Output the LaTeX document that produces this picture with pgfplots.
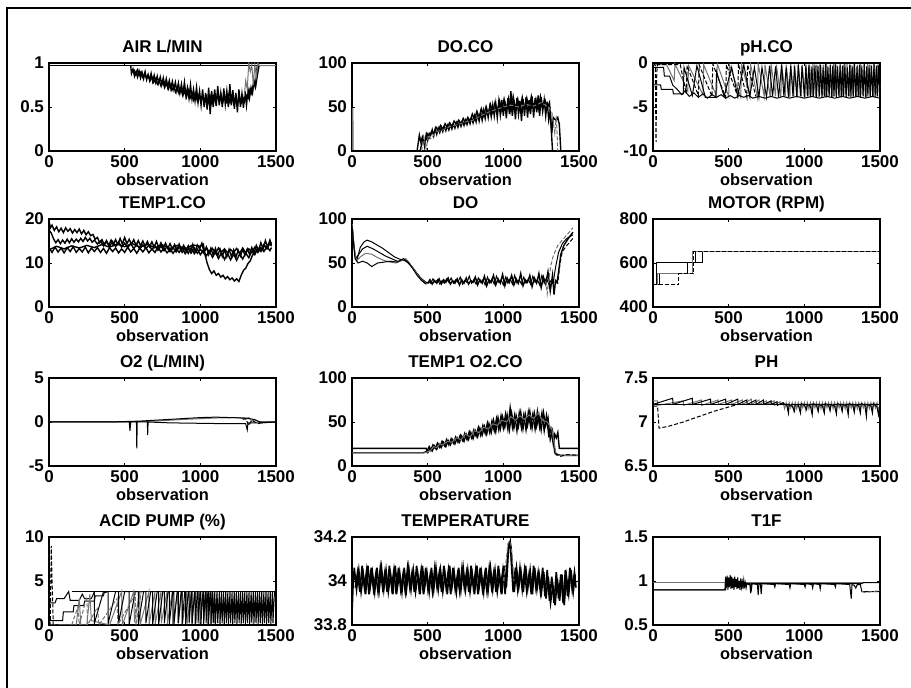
\documentclass[border=0pt]{standalone}
\usepackage{pgfplots}
\pgfplotsset{compat=1.18}
\usepackage{fontspec}
\setmainfont{Liberation Sans}

\pgfplotsset{
 panel/.style={
  scale only axis, width=113.5pt, height=44pt, anchor=south west,
  xmin=0, xmax=1500, xtick={0,500,1000,1500}, xticklabels={0,500,1000,1500},
  tick align=inside, major tick length=1.5pt,
  axis line style={line width=1pt}, every tick/.style={black, line width=0.4pt},
  tick label style={font=\bfseries\fontsize{8.5}{10}\selectfont},
  /pgf/number format/assume math mode=true,
  title style={font=\bfseries\fontsize{8.5}{10}\selectfont, yshift=-4.25pt, text depth=0pt},
  xlabel={observation}, xlabel style={font=\bfseries\fontsize{8.2}{10}\selectfont, yshift=4pt},
  xticklabel style={yshift=1pt}, yticklabel style={xshift=1pt},
 },
 blk/.style={black, line width=0.5pt},
 nz/.style={black, line width=0.7pt},
 gry/.style={black!55, line width=0.5pt},
 dsh/.style={black, line width=0.5pt, dash pattern=on 2pt off 1pt},
 gdsh/.style={black!55, line width=0.5pt, dash pattern=on 2pt off 1pt},
}

\begin{document}
\begin{tikzpicture}
\useasboundingbox (0,0) rectangle (455.5pt,344pt);
\draw[line width=0.7pt] (3.5pt,0pt) -- (3.5pt,340pt) -- (455.5pt,340pt);

% ---- row 1 ----
\begin{axis}[panel, at={(24.5pt,268.5pt)}, title={AIR  L/MIN},
 ymin=0, ymax=1, ytick={0,0.5,1}, yticklabels={0,0.5,1}]
\addplot[blk, line width=0.8pt] coordinates {(0,0.97) (1500,0.97)};
\addplot[nz] coordinates {(540,0.97) (545,0.88) (555,0.93) (565,0.85) (575,0.9) (585,0.84) (595,0.91) (605,0.83) (615,0.89) (625,0.82) (635,0.9) (645,0.81) (655,0.87) (665,0.8) (675,0.88) (685,0.79) (695,0.86) (705,0.78) (715,0.85) (725,0.77) (735,0.84) (745,0.75) (755,0.83) (765,0.74) (775,0.82) (785,0.73) (795,0.8) (805,0.71) (815,0.79) (825,0.7) (835,0.78) (845,0.68) (855,0.77) (865,0.66) (875,0.76) (885,0.65) (895,0.78) (905,0.63) (915,0.72) (925,0.6) (935,0.75) (945,0.59) (955,0.7) (965,0.57) (975,0.72) (985,0.55) (995,0.68) (1005,0.52) (1015,0.7) (1025,0.5) (1035,0.66) (1045,0.47) (1055,0.72) (1065,0.42) (1075,0.68) (1085,0.5) (1095,0.7) (1105,0.51) (1115,0.74) (1125,0.52) (1135,0.66) (1145,0.5) (1155,0.71) (1165,0.53) (1175,0.68) (1185,0.5) (1195,0.76) (1205,0.52) (1215,0.69) (1225,0.48) (1235,0.66) (1245,0.44) (1255,0.7) (1265,0.5) (1275,0.65) (1285,0.49) (1295,0.68) (1305,0.52) (1315,0.7) (1325,0.6) (1335,0.72) (1345,0.66) (1355,0.8) (1365,0.75) (1375,0.95) (1380,0.97)};
\addplot[nz] coordinates {(560,0.93) (572,0.87) (584,0.92) (596,0.86) (608,0.9) (620,0.84) (632,0.88) (644,0.83) (656,0.86) (668,0.8) (680,0.84) (692,0.78) (704,0.82) (716,0.76) (728,0.8) (740,0.74) (752,0.79) (764,0.72) (776,0.77) (788,0.7) (800,0.75) (812,0.69) (824,0.74) (836,0.67) (848,0.72) (860,0.65) (872,0.7) (884,0.63) (896,0.68) (908,0.61) (920,0.69) (932,0.6) (944,0.66) (956,0.58) (968,0.65) (980,0.57) (992,0.64) (1004,0.56) (1016,0.63) (1028,0.55) (1040,0.62) (1052,0.55) (1064,0.63) (1076,0.54) (1088,0.62) (1100,0.55) (1112,0.63) (1124,0.56) (1136,0.64) (1148,0.55) (1160,0.62) (1172,0.56) (1184,0.64) (1196,0.55) (1208,0.62) (1220,0.54) (1232,0.61) (1244,0.53) (1256,0.6) (1268,0.54) (1280,0.61) (1292,0.56) (1304,0.63) (1316,0.6) (1328,0.7) (1340,0.65) (1352,0.78) (1364,0.72) (1376,0.85) (1388,0.97)};
\addplot[gry] coordinates {(1290,0.62) (1300,0.8) (1310,0.7) (1320,1) (1330,0.9) (1340,0.98) (1350,0.75) (1360,0.98) (1370,0.85) (1380,1) (1390,0.97) (1500,0.97)};
\end{axis}

\begin{axis}[panel, at={(176pt,268.5pt)}, title={DO.CO},
 ymin=0, ymax=100, ytick={0,50,100}, yticklabels={0,50,100}]
\addplot[gry] coordinates {(2,0) (3,48) (6,48) (8,0)};
\addplot[nz] coordinates {(0,0) (450,0) (470,15) (480,5) (490,18) (500,12) (510,20) (520,18) (530,24) (540,17) (550,25) (560,19) (570,26) (580,21) (590,27) (600,22) (610,28) (620,23) (630,29) (640,24) (650,30) (660,25) (670,31) (680,26) (690,32) (700,27) (710,33) (720,28) (730,34) (740,29) (750,35) (760,30) (770,36) (780,31) (790,38) (800,32) (810,40) (820,33) (830,42) (840,34) (850,44) (860,35) (870,46) (880,37) (890,48) (900,38) (910,50) (920,39) (930,52) (940,40) (950,54) (960,38) (970,56) (980,41) (990,58) (1000,40) (1010,57) (1020,37) (1030,60) (1040,42) (1050,68) (1060,40) (1070,58) (1080,36) (1090,60) (1100,42) (1110,57) (1120,34) (1130,59) (1140,40) (1150,61) (1160,38) (1170,58) (1180,42) (1190,62) (1200,38) (1210,60) (1220,44) (1230,63) (1240,40) (1250,61) (1260,45) (1270,58) (1280,40) (1290,56) (1300,35) (1310,45) (1320,20) (1330,38) (1340,36) (1350,35) (1360,38) (1370,30) (1380,0) (1500,0)};
\addplot[nz] coordinates {(0,0) (430,0) (445,18) (455,10) (465,16) (480,8) (495,20) (510,15) (525,22) (540,20) (555,27) (570,23) (585,29) (600,25) (615,31) (630,27) (645,32) (660,28) (675,34) (690,30) (705,35) (720,31) (735,37) (750,32) (765,38) (780,34) (795,42) (810,36) (825,45) (840,38) (855,48) (870,40) (885,50) (900,42) (915,53) (930,44) (945,55) (960,45) (975,57) (990,46) (1005,59) (1020,47) (1035,60) (1050,45) (1065,62) (1080,48) (1095,59) (1110,46) (1125,61) (1140,48) (1155,60) (1170,47) (1185,62) (1200,50) (1215,59) (1230,47) (1245,62) (1260,50) (1275,58) (1290,48) (1305,55) (1315,30) (1325,0) (1500,0)};
\addplot[gdsh] coordinates {(460,0) (475,16) (490,2) (505,18) (520,14) (560,22) (600,24) (650,28) (700,30) (750,33) (800,35) (850,40) (900,44) (950,47) (1000,50) (1050,52) (1100,50) (1150,53) (1200,51) (1250,55) (1300,50) (1320,45) (1340,20) (1350,40) (1360,0)};
\end{axis}

\begin{axis}[panel, at={(326.5pt,268.5pt)}, title={pH.CO},
 ymin=-10, ymax=0, ytick={-10,-5,0}, yticklabels={-10,-5,0}]
\addplot[gry] coordinates {(0,-0.2) (90,-0.2) (140,-2) (145,-0.1) (230,-3.2) (235,-0.3) (330,-3.6) (335,-0.2) (420,-3.8) (425,-0.1) (500,-3.8) (505,-0.2) (580,-3.9) (585,-0.1) (640,-3.8) (645,-0.2) (690,-3.9) (695,-0.1) (735,-3.8) (740,-0.2) (775,-3.9) (780,-0.1) (810,-3.8) (815,-0.2) (845,-3.9) (850,-0.1) (875,-3.8) (880,-0.2) (905,-3.9) (910,-0.1) (930,-3.8) (935,-0.2) (955,-3.9) (960,-0.1) (980,-3.8) (985,-0.2) (1005,-3.9) (1010,-0.1) (1030,-3.8) (1035,-0.2) (1052,-3.9) (1057,-0.1) (1075,-3.8) (1080,-0.2) (1097,-3.9) (1102,-0.1) (1120,-3.8) (1125,-0.2) (1142,-3.9) (1147,-0.1) (1165,-3.8) (1170,-0.2) (1187,-3.9) (1192,-0.1) (1210,-3.8) (1215,-0.2) (1232,-3.9) (1237,-0.1) (1255,-3.8) (1260,-0.2) (1277,-3.9) (1282,-0.1) (1300,-3.8) (1305,-0.2) (1322,-3.9) (1327,-0.1) (1345,-3.8) (1350,-0.2) (1367,-3.9) (1372,-0.1) (1390,-3.8) (1395,-0.2) (1412,-3.9) (1417,-0.1) (1435,-3.8) (1440,-0.2) (1457,-3.9) (1462,-0.1) (1480,-3.8) (1485,-0.2) (1500,-3)};
\addplot[blk] coordinates {(0,-2.5) (50,-2.5) (55,-3) (130,-3) (135,-3.5) (200,-3.5) (205,-0.5) (260,-3.7) (290,-0.3) (340,-3.5) (345,-3.9) (415,-3.9) (420,-1) (470,-3.8) (520,-0.5) (560,-3.8) (600,-0.2) (640,-3.8) (670,-0.5) (700,-3.9) (720,-0.5) (750,-3.9) (770,-0.3) (790,-3.8) (810,-0.4) (830,-3.9) (850,-0.2) (865,-3.8) (880,-0.5) (895,-3.9) (910,-0.3) (925,-3.8) (935,-0.4) (950,-3.9) (960,-0.2) (975,-3.8) (985,-0.3) (1000,-3.9) (1010,-0.3) (1020,-3.8) (1030,-0.2) (1040,-3.9) (1050,-0.4) (1060,-3.8) (1070,-0.2) (1080,-3.9) (1090,-0.3) (1100,-3.8) (1108,-0.2) (1116,-3.9) (1124,-0.5) (1132,-3.8) (1140,-0.1) (1148,-3.9) (1156,-0.4) (1164,-3.8) (1172,-0.2) (1180,-3.9) (1188,-0.3) (1196,-3.8) (1204,-0.1) (1212,-3.9) (1220,-0.4) (1228,-3.8) (1236,-0.2) (1244,-3.9) (1252,-0.3) (1260,-3.8) (1268,-0.1) (1276,-3.9) (1284,-0.5) (1292,-3.8) (1300,-0.2) (1308,-3.9) (1316,-0.3) (1324,-3.8) (1332,-0.1) (1340,-3.9) (1348,-0.4) (1356,-3.8) (1364,-0.2) (1372,-3.9) (1380,-0.3) (1388,-3.8) (1396,-0.1) (1404,-3.9) (1412,-0.4) (1420,-3.8) (1428,-0.2) (1436,-3.9) (1444,-0.3) (1452,-3.8) (1460,-0.1) (1468,-3.9) (1476,-0.3) (1484,-3.8) (1492,-0.2) (1500,-3.9)};
\addplot[blk] coordinates {(0,-0.5) (70,-0.5) (75,-1.5) (110,-1.5) (130,-2.5) (160,-3) (190,-3.6) (210,-3.2) (240,-3.8) (270,-3.4) (300,-3.9) (330,-3.5) (360,-4) (390,-3.6) (420,-3.9) (450,-3.6) (480,-4) (510,-3.7) (540,-4) (570,-3.7) (600,-3.9) (630,-3.7) (660,-4) (700,-3.8) (740,-4) (780,-3.8) (820,-4) (860,-3.8) (900,-4) (950,-3.8) (1000,-4) (1050,-3.8) (1100,-4) (1150,-3.8) (1200,-4) (1250,-3.8) (1300,-4) (1350,-3.8) (1400,-4) (1450,-3.8) (1500,-4)};
\addplot[dsh] coordinates {(0,0) (15,-0.3) (20,-9) (25,-1) (30,-0.2) (180,-0.2) (220,-3.5) (225,-0.3) (300,-3.7) (305,-0.2) (390,-3.8) (395,-0.1) (480,-3.9) (485,-0.2) (560,-3.8) (565,-0.1) (620,-3.9) (625,-0.2) (680,-3.8)};
\end{axis}

% ---- row 2 ----
\begin{axis}[panel, at={(24.5pt,190.5pt)}, title={TEMP1.CO},
 ymin=0, ymax=20, ytick={0,10,20}, yticklabels={0,10,20}]
\addplot[nz] coordinates {(0,19.5) (10,18) (20,18.6) (35,17.4) (50,18.2) (65,17.1) (80,17.9) (95,16.9) (110,18) (125,17.2) (140,17.8) (155,16.8) (170,17.6) (185,16.9) (200,17.7) (215,16.6) (230,17.4) (245,16.4) (260,17.1) (275,16.2) (290,16.5) (305,15.4) (320,15.8) (335,14.6) (350,15.3) (365,14.2) (380,15.1) (395,14) (410,15.2) (425,14.1) (440,15.3) (455,14.2) (470,15.6) (485,14.3) (500,15.8) (515,14.4) (530,15.4) (545,14.2) (560,15.3) (575,14) (590,15.1) (605,13.9) (620,15) (635,13.8) (650,14.9) (665,13.7) (680,14.8) (695,13.6) (710,14.9) (725,13.5) (740,14.6) (755,13.4) (770,14.5) (785,13.3) (800,14.4) (815,13.2) (830,14.2) (845,13) (860,14.3) (875,12.9) (890,14) (905,12.8) (920,13.9) (935,12.5) (950,14.2) (965,12.6) (980,14.1) (995,13.2) (1010,14.5) (1025,12.4) (1040,13.6) (1055,11.9) (1070,13.4) (1085,11.8) (1100,13.3) (1115,11.6) (1130,13.2) (1145,11.5) (1160,13) (1175,11.4) (1190,13.1) (1205,11.5) (1220,13) (1235,11.3) (1250,12.9) (1265,11.6) (1280,13.1) (1295,11.8) (1310,13.2) (1325,12) (1340,13.5) (1355,12.3) (1370,14) (1385,12.8) (1400,14.6) (1415,13.2) (1430,15.1) (1445,13.6) (1460,15.2) (1470,14)};
\addplot[nz] coordinates {(0,17.5) (15,16.8) (30,15.5) (45,14.6) (60,15.3) (75,14.4) (90,15.2) (105,14.5) (120,15.4) (135,14.6) (150,15.5) (165,14.7) (180,15.4) (195,14.8) (210,15.6) (225,14.9) (240,15.8) (255,15) (270,15.6) (285,14.7) (300,15.2) (320,14.3) (340,15) (360,13.9) (380,14.8) (400,13.8) (420,14.9) (440,13.7) (460,14.8) (480,13.6) (500,14.5) (520,13.5) (540,14.4) (560,13.3) (580,14.2) (600,13.2) (620,14.1) (640,13.3) (660,14) (680,13.1) (700,13.9) (720,12.9) (740,13.8) (760,12.8) (780,13.7) (800,12.6) (820,13.5) (840,12.5) (860,13.6) (880,12.4) (900,13.4) (920,12.2) (940,13.5) (960,12.1) (980,13.2) (1000,11.9) (1020,12.9) (1040,11.6) (1060,12.7) (1080,11.3) (1100,12.5) (1120,11) (1140,12.4) (1160,10.8) (1180,12.2) (1200,10.7) (1220,12) (1240,10.6) (1260,12.1) (1280,10.9) (1300,12.3) (1320,11.2) (1340,12.6) (1360,11.9) (1380,13.4) (1400,12.6) (1420,14.2) (1440,13.4) (1460,15) (1470,14.4)};
\addplot[nz] coordinates {(0,13.5) (20,12.4) (40,13.6) (60,12.5) (80,13.4) (100,12.3) (120,13.5) (140,12.6) (160,13.7) (180,12.4) (200,13.3) (220,12.5) (240,13.6) (260,12.3) (280,13.4) (300,12.6) (320,13.5) (340,12.4) (360,13.3) (380,12.2) (400,13.5) (420,12.6) (440,13.4) (460,12.3) (480,13.2) (500,12.4) (520,13.6) (540,12.5) (560,13.3) (580,12.2) (600,13.4) (620,12.5) (640,13.5) (660,12.3) (680,13.2) (700,12.4) (720,13.6) (740,12.5) (760,13.4) (780,12.3) (800,13.1) (820,12.2) (840,13.3) (860,12.4) (880,13.5) (900,12.1) (920,13.2) (940,12.3) (960,13.4) (980,12.2) (1000,13.1) (1020,12.3) (1040,13.5) (1060,12.4) (1080,13.3) (1100,12.2) (1120,13.4) (1140,12.5) (1160,13.2) (1180,12.3) (1200,13.1) (1220,12.4) (1240,13.3) (1260,12.2) (1280,13.4) (1300,12.3) (1320,13.2) (1340,12.5) (1360,13.6) (1380,12.4) (1400,13.5) (1420,12.6) (1440,13.7) (1460,12.8) (1470,13.5)};
\addplot[nz] coordinates {(0,13) (50,13.8) (100,13.2) (150,13.9) (200,13.4) (250,14) (300,13.5) (350,14.2) (400,13.6) (450,14.3) (500,13.7) (550,14.4) (600,13.6) (650,14.2) (700,13.5) (750,14.1) (800,13.3) (850,14) (900,13.2) (950,14.1) (1000,13.8) (1020,14.3) (1030,12) (1045,10) (1060,8.5) (1075,7.6) (1090,8.2) (1105,7.2) (1120,7.6) (1135,6.8) (1150,7.2) (1165,6.4) (1180,6.9) (1195,6.2) (1210,6.6) (1225,5.9) (1240,6.4) (1255,5.8) (1270,7.2) (1285,8.3) (1300,8.8) (1315,9.9) (1330,10.5) (1345,11.8) (1360,12.2) (1380,13.3) (1400,12.8) (1420,14) (1440,13.2) (1460,14.5) (1470,13.8)};
\end{axis}

\begin{axis}[panel, at={(176pt,190.5pt)}, title={DO},
 ymin=0, ymax=100, ytick={0,50,100}, yticklabels={0,50,100}]
\addplot[blk] coordinates {(0,96) (10,75) (20,58) (35,55) (55,68) (80,74) (100,76) (130,74) (160,71) (200,67) (240,62) (280,57) (320,54) (350,53) (370,50) (400,45) (430,38) (460,32) (490,28) (510,27)};
\addplot[blk] coordinates {(0,95) (12,70) (25,55) (45,60) (70,66) (100,69) (140,66) (180,62) (220,58) (260,55) (300,52) (340,53) (360,52) (390,47) (420,40) (450,33) (480,27) (500,27)};
\addplot[gry] coordinates {(0,94) (15,65) (30,52) (55,57) (90,61) (130,60) (170,56) (210,53) (250,51) (290,50) (330,53) (355,55) (380,50) (410,42) (440,35) (470,29) (495,26)};
\addplot[blk] coordinates {(0,92) (20,55) (40,50) (70,52) (100,50) (130,46) (170,50) (210,51) (250,52) (300,51) (340,55) (370,51) (400,44) (430,36) (460,30) (490,26)};
\addplot[nz] coordinates {(500,27) (515,31) (530,26) (545,30) (560,27) (575,32) (590,26) (605,31) (620,28) (635,33) (650,26) (665,30) (680,27) (695,32) (710,25) (725,31) (740,27) (755,33) (770,26) (785,30) (800,28) (815,34) (830,25) (845,31) (860,27) (875,35) (890,24) (905,31) (920,28) (935,36) (950,25) (965,32) (980,27) (995,37) (1010,24) (1025,33) (1040,28) (1055,36) (1070,25) (1085,32) (1100,27) (1115,38) (1130,24) (1145,31) (1160,28) (1175,36) (1190,23) (1205,33) (1220,27) (1235,38) (1250,22) (1265,34) (1280,26) (1295,40) (1310,18) (1325,36) (1335,14) (1345,30) (1355,28) (1365,40) (1380,60) (1400,70) (1430,78) (1460,85)};
\addplot[blk] coordinates {(505,29) (520,27) (535,32) (550,28) (565,31) (580,26) (595,30) (610,27) (625,32) (640,28) (655,33) (670,27) (685,31) (700,28) (715,34) (730,26) (745,30) (760,28) (775,35) (790,27) (805,31) (820,26) (835,33) (850,28) (865,31) (880,25) (895,34) (910,27) (925,32) (940,26) (955,35) (970,28) (985,31) (1000,25) (1015,34) (1030,27) (1045,32) (1060,26) (1075,36) (1090,27) (1105,31) (1120,26) (1135,34) (1150,27) (1165,32) (1180,26) (1195,35) (1210,28) (1225,31) (1240,25) (1255,36) (1270,27) (1285,33) (1300,26) (1315,30) (1330,28) (1345,45) (1365,62) (1390,72) (1420,78) (1460,82)};
\addplot[gdsh] coordinates {(1280,30) (1290,15) (1300,30) (1315,48) (1330,58) (1360,70) (1400,78) (1460,90)};
\addplot[dsh] coordinates {(1340,28) (1360,27) (1375,50) (1390,63) (1420,70) (1460,78)};
\end{axis}

\begin{axis}[panel, at={(326.5pt,190.5pt)}, title={MOTOR (RPM)},
 ymin=400, ymax=800, ytick={400,600,800}, yticklabels={400,600,800}]
\addplot[blk] coordinates {(0,500) (25,500) (25,600) (280,600) (280,650) (1500,650)};
\addplot[blk] coordinates {(0,500) (40,500) (40,550) (230,550) (230,600) (330,600) (330,650) (1500,650)};
\addplot[gry] coordinates {(0,500) (30,500) (30,550) (260,550) (260,650) (1500,650)};
\addplot[dsh] coordinates {(0,500) (170,500) (170,550) (270,550) (270,650) (1500,650)};
\end{axis}

% ---- row 3 ----
\begin{axis}[panel, at={(24.5pt,111pt)}, title={O2 (L/MIN)},
 ymin=-5, ymax=5, ytick={-5,0,5}, yticklabels={-5,0,5}]
\addplot[gry] coordinates {(0,0) (500,0) (700,0.1) (900,0.3) (1100,0.45) (1250,0.5) (1300,0.3) (1320,0.5) (1340,0.1) (1360,0.3) (1400,-0.1) (1500,0)};
\addplot[blk] coordinates {(0,0) (400,0) (500,0.05) (600,0.1) (700,0.2) (800,0.3) (900,0.4) (1000,0.5) (1100,0.55) (1200,0.5) (1300,0.45) (1350,0.3) (1380,0.1) (1400,0) (1500,0)};
\addplot[blk] coordinates {(0,0) (530,0) (535,-1) (540,0) (578,0) (580,-3) (583,0) (650,0) (652,-1.5) (655,0) (800,-0.1) (1000,-0.15) (1200,-0.2) (1300,-0.2) (1310,-0.9) (1315,-0.1) (1400,-0.1) (1500,0)};
\addplot[dsh] coordinates {(1280,0.3) (1300,0.4) (1320,-0.4) (1340,0.2) (1380,-0.2) (1420,0)};
\end{axis}

\begin{axis}[panel, at={(176pt,111pt)}, title={TEMP1 O2.CO},
 ymin=0, ymax=100, ytick={0,50,100}, yticklabels={0,50,100}]
\addplot[nz] coordinates {(0,20) (490,20) (495,17) (510,22) (520,18) (535,24) (550,20) (565,26) (580,21) (595,28) (610,23) (625,30) (640,24) (655,31) (670,26) (685,33) (700,27) (715,35) (730,29) (745,37) (760,30) (775,39) (790,32) (805,41) (820,34) (835,44) (850,35) (865,46) (880,37) (895,49) (910,38) (925,51) (940,40) (955,54) (970,41) (985,57) (1000,43) (1015,59) (1030,42) (1045,66) (1060,44) (1075,58) (1090,40) (1105,60) (1120,43) (1135,58) (1150,41) (1165,61) (1180,45) (1195,59) (1210,42) (1225,62) (1240,44) (1255,60) (1270,40) (1285,57) (1300,35) (1315,42) (1330,25) (1340,36) (1350,32) (1360,38) (1370,20) (1500,20)};
\addplot[nz] coordinates {(0,15) (470,15) (485,16) (500,15) (515,20) (530,17) (545,23) (560,19) (575,25) (590,21) (605,27) (620,22) (635,29) (650,24) (665,30) (680,25) (695,32) (710,27) (725,34) (740,28) (755,36) (770,30) (785,38) (800,31) (815,40) (830,33) (845,43) (860,35) (875,45) (890,36) (905,48) (920,38) (935,52) (950,39) (965,55) (980,42) (995,56) (1010,44) (1025,58) (1040,41) (1055,60) (1070,43) (1085,57) (1100,45) (1115,61) (1130,42) (1145,59) (1160,46) (1175,62) (1190,43) (1205,60) (1220,45) (1235,58) (1250,41) (1265,61) (1280,46) (1295,55) (1310,30) (1325,40) (1340,15) (1360,13) (1380,12) (1500,12)};
\addplot[gry] coordinates {(0,15) (480,15) (500,16) (520,18) (540,22) (560,21) (580,25) (600,24) (630,28) (660,27) (690,32) (720,30) (750,36) (780,33) (810,40) (840,38) (870,44) (900,42) (930,48) (960,46) (990,52) (1020,50) (1050,56) (1080,52) (1110,57) (1140,53) (1170,58) (1200,54) (1230,60) (1260,52) (1290,50) (1320,42) (1350,12) (1500,12)};
\addplot[dsh] coordinates {(1340,14) (1380,11) (1420,13) (1500,12)};
\end{axis}

\begin{axis}[panel, at={(326.5pt,111pt)}, title={PH},
 ymin=6.5, ymax=7.5, ytick={6.5,7,7.5}, yticklabels={6.5,7,7.5}]
\addplot[gry] coordinates {(0,7.24) (30,7.24) (32,7.19) (200,7.24) (202,7.19) (320,7.25) (322,7.19) (430,7.25) (432,7.2) (520,7.25) (522,7.2) (590,7.25) (592,7.2) (650,7.26) (652,7.2) (700,7.25) (702,7.2) (750,7.24) (752,7.2) (800,7.24) (802,7.19) (840,7.23) (842,7.2) (860,7.22) (870,7.15) (880,7.22) (890,7.14) (900,7.22) (910,7.16) (920,7.22) (930,7.13) (940,7.22) (950,7.15) (960,7.22) (970,7.14) (980,7.22) (990,7.16) (1000,7.22) (1010,7.13) (1020,7.22) (1030,7.15) (1040,7.22) (1050,7.14) (1060,7.22) (1070,7.16) (1080,7.22) (1090,7.13) (1100,7.22) (1110,7.15) (1120,7.22) (1130,7.14) (1140,7.22) (1150,7.16) (1160,7.22) (1170,7.13) (1180,7.22) (1190,7.15) (1200,7.22) (1210,7.14) (1220,7.22) (1230,7.16) (1240,7.22) (1250,7.13) (1260,7.22) (1270,7.15) (1280,7.22) (1290,7.14) (1300,7.22) (1310,7.16) (1320,7.22) (1330,7.13) (1340,7.22) (1350,7.15) (1360,7.22) (1370,7.14) (1380,7.22) (1390,7.16) (1400,7.22) (1410,7.13) (1420,7.22) (1430,7.15) (1440,7.22) (1450,7.14) (1460,7.22) (1470,7.16) (1480,7.22) (1490,7.13) (1500,7.2)};
\addplot[blk, line width=0.7pt] coordinates {(0,7.2) (900,7.2)};
\addplot[blk] coordinates {(0,7.2) (130,7.27) (132,7.2) (260,7.27) (262,7.2) (380,7.26) (382,7.2) (480,7.26) (482,7.2) (560,7.26) (562,7.2) (620,7.25) (622,7.2) (680,7.25) (682,7.2) (730,7.25) (732,7.2) (780,7.24) (782,7.2) (820,7.23) (822,7.19) (860,7.22) (870,7.2) (885,7.19) (895,7.1) (900,7.2) (920,7.18) (935,7.12) (940,7.2) (960,7.19) (975,7.1) (980,7.21) (1000,7.19) (1015,7.14) (1020,7.2) (1040,7.18) (1052,7.08) (1058,7.21) (1080,7.19) (1092,7.12) (1098,7.2) (1120,7.18) (1132,7.1) (1138,7.21) (1160,7.19) (1170,7.13) (1176,7.2) (1200,7.18) (1212,7.09) (1218,7.21) (1240,7.19) (1250,7.12) (1256,7.2) (1280,7.18) (1290,7.08) (1296,7.21) (1320,7.19) (1330,7.11) (1336,7.2) (1360,7.18) (1370,7.1) (1376,7.21) (1400,7.19) (1410,7.06) (1416,7.2) (1440,7.18) (1450,7.1) (1456,7.21) (1480,7.17) (1490,7.08) (1500,7.2)};
\addplot[dsh] coordinates {(0,7.18) (30,7.18) (40,6.93) (100,6.95) (200,7) (300,7.06) (400,7.12) (500,7.17) (560,7.2) (1500,7.2)};
\end{axis}

% ---- row 4 ----
\begin{axis}[panel, at={(24.5pt,31.5pt)}, title={ACID PUMP  (\%)},
 ymin=0, ymax=10, ytick={0,5,10}, yticklabels={0,5,10}]
\addplot[blk] coordinates {(150,3.8) (1500,3.8)};
\addplot[blk] coordinates {(0,0.5) (90,0.5) (95,1.5) (160,1.5) (165,2.2) (230,2.2) (235,2.7) (300,2.7) (305,3.3) (360,3.3) (365,3.7) (380,3.7)};
\addplot[blk] coordinates {(0,2.5) (40,2.5) (50,3) (100,3) (130,3.8) (140,2.8) (200,2.8) (220,3.5) (235,3) (280,3) (300,3.8)};
\addplot[gry] coordinates {(0,0) (180,0) (200,3) (210,0) (250,0) (270,3.5) (280,0.5) (400,0) (480,3.8) (485,0) (560,3.8) (565,0.3) (600,3.8) (602,0) (660,3.8) (662,0.1) (700,3.8) (702,0.1) (740,3.8) (742,0.2) (780,3.8) (782,0.1) (815,3.8) (817,0.1) (850,3.8) (852,0.2) (880,3.8) (882,0.1) (910,3.8) (912,0.1) (940,3.8) (942,0.2) (968,3.8) (970,0.1) (995,3.8) (997,0.1) (1020,3.8) (1022,0.2) (1045,3.8) (1047,0.1) (1070,3.8) (1072,0.1) (1092,3.8) (1094,0.2) (1110,3.8)};
\addplot[blk] coordinates {(300,3.8) (300,0.2) (360,3.8) (390,3.8) (390,0.1) (440,3.8) (460,3.8) (460,0.2) (500,3.8) (530,3.8) (530,0.1) (570,3.8) (590,3.8) (590,0.1) (625,3.8) (640,3.8) (640,0.2) (672,3.8) (685,3.8) (685,0.1) (715,3.8) (725,3.8) (725,0.1) (752,3.8) (762,3.8) (762,0.2) (787,3.8) (795,3.8) (795,0.1) (818,3.8) (826,3.8) (826,0.1) (847,3.8) (855,3.8) (855,0.2) (873,3.8) (880,3.8) (880,0.1) (897,3.8) (903,3.8) (903,0.1) (920,3.8) (926,3.8) (926,0.2) (941,3.8) (946,3.8) (946,0.1) (961,3.8) (966,3.8) (966,0.1) (980,3.8) (985,3.8) (985,0.2) (999,3.8) (1004,3.8) (1004,0.1) (1017,3.8) (1021,3.8) (1021,0.1) (1034,3.8) (1038,3.8) (1038,0.2) (1050,3.8) (1054,3.8) (1054,0.1) (1066,3.8) (1070,3.8) (1070,0.1) (1081,3.8) (1085,0.2) (1096,3.8) (1100,0.1) (1111,3.8) (1115,0.2) (1126,3.8) (1130,0.1) (1140,3.8) (1144,0.2) (1154,3.8) (1158,0.1) (1168,3.8) (1172,0.2) (1182,3.8) (1186,0.1) (1196,3.8) (1200,0.2) (1210,3.8) (1214,0.1) (1224,3.8) (1228,0.2) (1238,3.8) (1242,0.1) (1252,3.8) (1256,0.2) (1266,3.8) (1270,0.1) (1280,3.8) (1284,0.2) (1294,3.8) (1298,0.1) (1308,3.8) (1312,0.2) (1322,3.8) (1326,0.1) (1336,3.8) (1340,0.2) (1350,3.8) (1354,0.1) (1364,3.8) (1368,0.2) (1378,3.8) (1382,0.1) (1392,3.8) (1396,0.2) (1406,3.8) (1410,0.1) (1420,3.8) (1424,0.2) (1434,3.8) (1438,0.1) (1448,3.8) (1452,0.2) (1462,3.8) (1466,0.1) (1476,3.8) (1480,0.2) (1490,3.8)};
\addplot[gdsh] coordinates {(150,0) (190,2) (200,0) (250,3.2) (255,0) (320,2) (330,0) (450,3) (455,0) (570,3.5) (575,0) (610,3.8)};
\addplot[dsh] coordinates {(0,0) (8,0) (15,9) (20,5) (25,2.5) (28,0) (60,0)};
\end{axis}

\begin{axis}[panel, at={(176pt,31.5pt)}, title={TEMPERATURE},
 ymin=33.8, ymax=34.2, ytick={33.8,34,34.2}, yticklabels={33.8,34,34.2}]
\addplot[nz, line width=0.8pt] coordinates {(0,33.85) (7,33.98) (15,34.06) (30,33.96) (45,34.05) (60,33.95) (75,34.03) (90,33.94) (105,34.07) (120,33.97) (135,34.04) (150,33.95) (165,34.06) (180,33.96) (195,34.06) (210,33.96) (225,34.05) (240,33.95) (255,34.03) (270,33.94) (285,34.07) (300,33.97) (315,34.04) (330,33.95) (345,34.06) (360,33.96) (375,34.06) (390,33.96) (405,34.05) (420,33.95) (435,34.03) (450,33.94) (465,34.07) (480,33.97) (495,34.04) (510,33.95) (525,34.06) (540,33.96) (555,34.06) (570,33.96) (585,34.05) (600,33.95) (615,34.03) (630,33.94) (645,34.07) (660,33.97) (675,34.04) (690,33.95) (705,34.06) (720,33.96) (735,34.06) (750,33.96) (765,34.05) (780,33.95) (795,34.03) (810,33.94) (825,34.07) (840,33.97) (855,34.04) (870,33.95) (885,34.06) (900,33.96) (915,34.06) (930,33.96) (945,34.05) (960,33.95) (975,34.03) (990,33.94) (1005,34.07) (1020,33.97) (1035,34.16) (1045,34.18) (1055,34.06) (1065,33.95) (1080,34.06) (1095,33.96) (1110,34.06) (1125,33.96) (1140,34.05) (1155,33.95) (1170,34.03) (1185,33.94) (1200,34.07) (1215,33.97) (1230,34.04) (1245,33.95) (1260,34.06) (1275,33.93) (1290,34.05) (1305,33.91) (1320,34.02) (1335,33.9) (1350,34.04) (1365,33.92) (1380,34.03) (1395,33.9) (1410,34.05) (1425,33.93) (1440,34.06) (1455,33.96) (1470,34.04) (1480,33.97)};
\addplot[nz, line width=0.8pt] coordinates {(22,33.97) (37,34.04) (52,33.95) (67,34.07) (82,33.97) (97,34.05) (112,33.94) (127,34.06) (142,33.96) (157,34.03) (172,33.95) (187,34.06) (202,33.97) (217,34.04) (232,33.95) (247,34.07) (262,33.97) (277,34.05) (292,33.94) (307,34.06) (322,33.96) (337,34.03) (352,33.95) (367,34.06) (382,33.97) (397,34.04) (412,33.95) (427,34.07) (442,33.97) (457,34.05) (472,33.94) (487,34.06) (502,33.96) (517,34.03) (532,33.95) (547,34.06) (562,33.97) (577,34.04) (592,33.95) (607,34.07) (622,33.97) (637,34.05) (652,33.94) (667,34.06) (682,33.96) (697,34.03) (712,33.95) (727,34.06) (742,33.97) (757,34.04) (772,33.95) (787,34.07) (802,33.97) (817,34.05) (832,33.94) (847,34.06) (862,33.96) (877,34.03) (892,33.95) (907,34.06) (922,33.97) (937,34.04) (952,33.95) (967,34.07) (982,33.97) (997,34.05) (1012,33.94) (1027,34.1) (1037,34.17) (1050,34.16) (1062,34.03) (1072,33.95) (1087,34.06) (1102,33.97) (1117,34.04) (1132,33.95) (1147,34.07) (1162,33.97) (1177,34.05) (1192,33.94) (1207,34.06) (1222,33.96) (1237,34.03) (1252,33.95) (1267,34.04) (1282,33.92) (1297,34.02) (1312,33.9) (1327,33.98) (1342,33.89) (1357,34.01) (1372,33.91) (1387,34.03) (1402,33.89) (1417,34.02) (1432,33.94) (1447,34.05) (1462,33.95) (1475,34.03)};
\addplot[gdsh] coordinates {(1000,34) (1020,34.1) (1030,34.17) (1040,34.18) (1050,34.17) (1060,34.1) (1070,34)};
\end{axis}

\begin{axis}[panel, at={(326.5pt,31.5pt)}, title={T1F},
 ymin=0.5, ymax=1.5, ytick={0.5,1,1.5}, yticklabels={0.5,1,1.5}]
\addplot[gry] coordinates {(0,0.98) (1500,0.98)};
\addplot[blk] coordinates {(0,0.9) (480,0.9) (480,0.97) (640,0.97) (645,0.86) (650,0.97) (1380,0.97) (1390,0.98) (1500,0.98)};
\addplot[blk] coordinates {(0,0.9) (470,0.9) (475,0.9) (480,1.05) (485,0.92) (490,1.06) (495,0.9) (500,1.04) (505,0.93) (510,1.07) (515,0.91) (520,1.05) (525,0.92) (530,1.03) (535,0.9) (540,1.05) (545,0.93) (550,1.02) (555,0.91) (560,1.04) (565,0.92) (570,1) (575,0.9) (580,1.03) (585,0.93) (590,0.99) (595,0.91) (600,1.01) (605,0.94) (610,0.98) (615,0.92) (620,0.97) (630,0.96) (640,0.97) (650,0.9) (655,0.97) (690,0.96) (695,0.84) (700,0.97) (710,0.96) (715,0.85) (720,0.97) (800,0.96) (805,0.93) (810,0.97) (900,0.96) (905,0.92) (910,0.97) (1000,0.96) (1005,0.93) (1010,0.97) (1050,0.96) (1055,0.92) (1060,0.97) (1100,0.96) (1105,0.91) (1110,0.97) (1200,0.96) (1205,0.93) (1210,0.97) (1300,0.96) (1310,0.8) (1315,0.96) (1330,0.95) (1340,0.92) (1350,0.96) (1370,0.96) (1380,0.88) (1500,0.88)};
\addplot[gdsh] coordinates {(1380,0.88) (1400,0.87) (1500,0.89)};
\end{axis}
\end{tikzpicture}
\end{document}
